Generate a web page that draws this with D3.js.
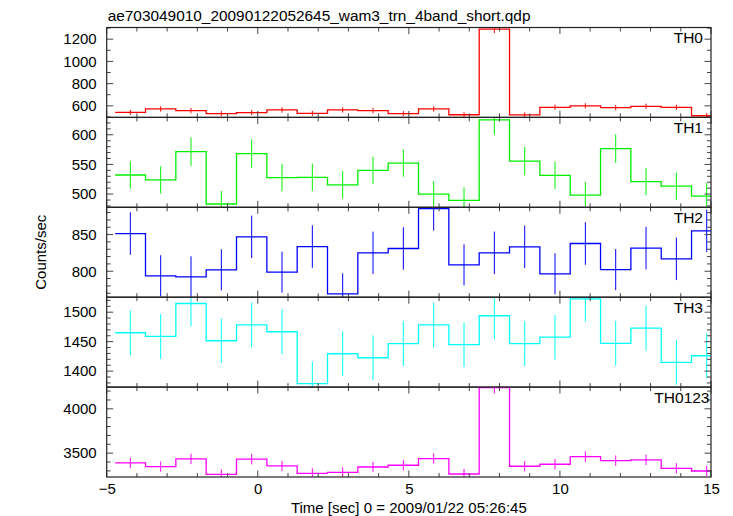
<!DOCTYPE html>
<html>
<head>
<meta charset="utf-8">
<script src="https://cdn.jsdelivr.net/npm/d3@7"></script>
<style>
  html, body { margin: 0; padding: 0; background: #fff; }
  svg { display: block; font-family: "Liberation Sans", Arial, Helvetica, sans-serif; }
</style>
</head>
<body>
<svg id="chart" width="733" height="516"></svg>
<script>
// ---------------- data ----------------
const chartTitle = "ae703049010_20090122052645_wam3_trn_4band_short.qdp";
const xLabel = "Time [sec] 0 = 2009/01/22 05:26:45";
const yLabel = "Counts/sec";
const panelNames = ["TH0", "TH1", "TH2", "TH3", "TH0123"];
const panelColors = ["#ff0000", "#00f000", "#0000ff", "#00ffff", "#ff00ff"];

// bin centres (s) and half width
const binTime = [-4.218, -3.214, -2.210, -1.206, -0.202, 0.802, 1.806, 2.810, 3.814, 4.818,
                 5.822, 6.826, 7.830, 8.834, 9.838, 10.842, 11.846, 12.850, 13.854, 14.858];
const binHalfWidth = 0.502;

const th0Rate = [541, 572, 557, 530, 539, 563, 532, 563, 557, 530, 572, 520, 1290, 518, 587, 600, 584, 596, 587, 511];
const th0Err  = [23, 24, 24, 23, 23, 24, 23, 24, 24, 23, 24, 23, 36, 23, 24, 24, 24, 24, 24, 23];
const th1Rate = [532.2, 523.8, 571.6, 483.3, 568.3, 527.7, 528.3, 515.5, 540.0, 552.2, 500.0, 489.3, 625.0, 555.5, 531.7, 498.3, 576.7, 521.0, 513.3, 496.7];
const th1Err  = [23, 23, 24, 22, 24, 23, 23, 23, 23, 23, 22, 22, 25, 24, 23, 22, 24, 23, 23, 22];
const th2Rate = [851.4, 793.8, 792.4, 801.9, 846.9, 798.7, 833.7, 769.2, 825.1, 831.0, 885.4, 808.7, 825.1, 833.3, 796.5, 837.8, 802.3, 831.4, 816.9, 855.1];
const th2Err  = [29, 28, 28, 28, 29, 28, 29, 28, 29, 29, 30, 28, 29, 29, 28, 29, 28, 29, 29, 29];
const th3Rate = [1465.1, 1458.8, 1514.7, 1451.5, 1478.6, 1466.8, 1378.7, 1429.5, 1422.7, 1446.5, 1478.6, 1444.8, 1493.9, 1446.5, 1457.6, 1522.7, 1447.0, 1472.9, 1414.8, 1426.1];
const th3Err  = [38, 38, 39, 38, 38, 38, 37, 38, 38, 38, 38, 38, 39, 38, 38, 39, 38, 38, 38, 38];
const th0123Rate = [3389.6, 3347.6, 3435.0, 3261.0, 3431.6, 3355.5, 3272.6, 3284.0, 3344.0, 3363.5, 3438.4, 3264.6, 4238.0, 3352.0, 3374.8, 3461.0, 3415.7, 3423.7, 3329.4, 3298.7];
const th0123Err  = [58, 58, 59, 57, 59, 58, 57, 57, 58, 58, 59, 57, 65, 58, 58, 59, 58, 59, 58, 57];

const panelRates = [th0Rate, th1Rate, th2Rate, th3Rate, th0123Rate];
const panelErrs  = [th0Err, th1Err, th2Err, th3Err, th0123Err];

// axis ranges and ticks
const xDomain = [-5, 15];
const xMajorTicks = [-5, 0, 5, 10, 15];
const xTickLabels = ["\u22125", "0", "5", "10", "15"];
const yDomains = [[496, 1305], [477.7, 629.3], [764.6, 887.2], [1372.9, 1525.4], [3231, 4245]];
const yMajorTicks = [[600, 800, 1000, 1200], [500, 550, 600], [800, 850], [1400, 1450, 1500], [3500, 4000]];
const yMinorStep = [100, 10, 10, 10, 100];

// ---------------- layout ----------------
const svg = d3.select("#chart");
const L = 106.7, R = 711, T = 27.5, PH = 89.9;
const font = "\"Liberation Sans\", Arial, Helvetica, sans-serif";
const nameRight = [703, 703, 703, 703, 709.5];

const x = d3.scaleLinear().domain(xDomain).range([L, R]);

svg.append("text")
  .attr("x", L + 1).attr("y", 20.5)
  .attr("font-size", 15.4).attr("fill", "#000")
  .text(chartTitle);

panelNames.forEach((name, p) => {
  const top = T + p * PH, bot = top + PH;
  const y = d3.scaleLinear().domain(yDomains[p]).range([bot, top]);
  const g = svg.append("g");

  const clipId = "clip" + p;
  svg.append("clipPath").attr("id", clipId)
    .append("rect").attr("x", L).attr("y", top).attr("width", R - L).attr("height", PH);

  const data = binTime.map((t, i) => ({ t, v: panelRates[p][i], e: panelErrs[p][i] }));
  const pts = [];
  data.forEach(d => { pts.push([d.t - binHalfWidth, d.v]); pts.push([d.t + binHalfWidth, d.v]); });

  const plot = g.append("g").attr("clip-path", `url(#${clipId})`);
  plot.append("path")
    .datum(pts)
    .attr("fill", "none")
    .attr("stroke", panelColors[p])
    .attr("stroke-width", 1.3)
    .attr("d", d3.line().x(d => x(d[0])).y(d => y(d[1])));

  plot.selectAll("line.err").data(data).enter().append("line")
    .attr("class", "err")
    .attr("x1", d => x(d.t)).attr("x2", d => x(d.t))
    .attr("y1", d => y(d.v - d.e)).attr("y2", d => y(d.v + d.e))
    .attr("stroke", panelColors[p]).attr("stroke-width", 1);

  // x ticks (top and bottom, inward)
  const xMinor = d3.range(xDomain[0], xDomain[1] + 0.001, 1);
  const xt = g.append("g");
  xMinor.forEach(v => {
    const major = xMajorTicks.includes(v);
    const len = major ? 6.5 : 4;
    xt.append("line").attr("x1", x(v)).attr("x2", x(v)).attr("y1", bot).attr("y2", bot - len)
      .attr("stroke", "#444").attr("stroke-width", 1);
    xt.append("line").attr("x1", x(v)).attr("x2", x(v)).attr("y1", top).attr("y2", top + len)
      .attr("stroke", "#444").attr("stroke-width", 1);
  });

  // y ticks (left and right, inward)
  const [d0, d1] = yDomains[p];
  const step = yMinorStep[p];
  const minor = d3.range(Math.ceil(d0 / step) * step, d1, step);
  minor.forEach(v => {
    const major = yMajorTicks[p].some(m => Math.abs(m - v) < 1e-6);
    const len = major ? 6.5 : 4;
    g.append("line").attr("x1", L).attr("x2", L + len).attr("y1", y(v)).attr("y2", y(v))
      .attr("stroke", "#444").attr("stroke-width", 1);
    g.append("line").attr("x1", R).attr("x2", R - len).attr("y1", y(v)).attr("y2", y(v))
      .attr("stroke", "#444").attr("stroke-width", 1);
  });

  // y labels via axis
  const yAxis = d3.axisLeft(y).tickValues(yMajorTicks[p]).tickSize(0).tickPadding(10).tickFormat(d3.format("d"));
  const ya = g.append("g").attr("transform", `translate(${L},0)`).call(yAxis);
  ya.select(".domain").remove();
  ya.selectAll("text").attr("font-size", 15).attr("font-family", font).attr("fill", "#000");

  // frame
  g.append("rect").attr("x", L).attr("y", top).attr("width", R - L).attr("height", PH)
    .attr("fill", "none").attr("stroke", "#222").attr("stroke-width", 1.2);

  // panel name
  g.append("text").attr("x", nameRight[p]).attr("y", top + 15.5)
    .attr("text-anchor", "end").attr("font-size", 15.5).attr("fill", "#000")
    .text(name);

  if (p === panelNames.length - 1) {
    const xAxis = d3.axisBottom(x).tickValues(xMajorTicks).tickSize(0).tickPadding(6)
      .tickFormat((d, i) => xTickLabels[i]);
    const xa = svg.append("g").attr("transform", `translate(0,${bot})`).call(xAxis);
    xa.select(".domain").remove();
    xa.selectAll("text").attr("font-size", 15).attr("font-family", font).attr("fill", "#000");
  }
});

svg.append("text")
  .attr("x", (L + R) / 2).attr("y", 512.5)
  .attr("text-anchor", "middle").attr("font-size", 15).attr("fill", "#000")
  .text(xLabel);

svg.append("text")
  .attr("transform", `translate(46,${T + 2.5 * PH}) rotate(-90)`)
  .attr("text-anchor", "middle").attr("font-size", 15).attr("fill", "#000")
  .text(yLabel);
</script>
</body>
</html>
